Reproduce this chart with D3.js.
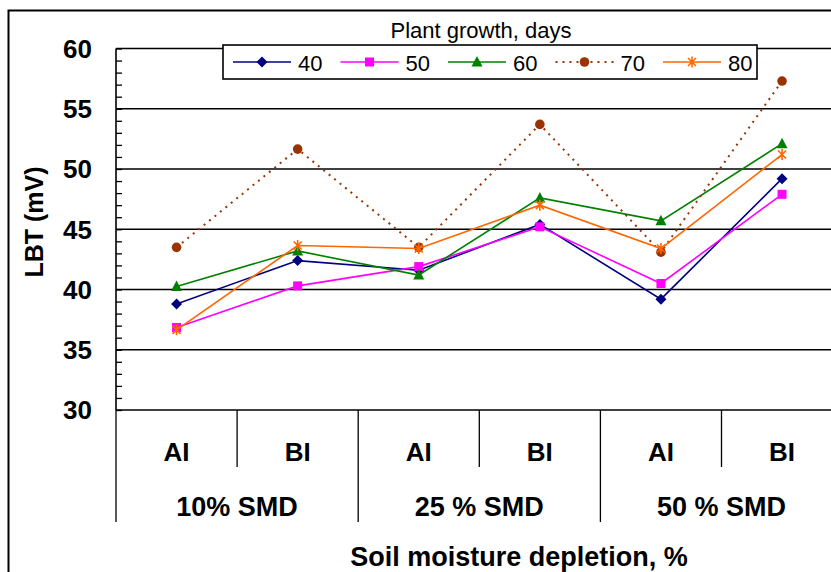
<!DOCTYPE html>
<html>
<head>
<meta charset="utf-8">
<script src="https://cdn.jsdelivr.net/npm/d3@7"></script>
<style>
  html, body { margin: 0; padding: 0; background: #fff; }
  svg { display: block; }
  text { font-family: "Liberation Sans", Arial, Helvetica, sans-serif; fill: #000; }
</style>
</head>
<body>
<svg id="chart" width="831" height="572"></svg>
<script>
// Irrigation treatment categories along the x axis
const categories = ["AI", "BI", "AI", "BI", "AI", "BI"];
const groups = ["10% SMD", "25 % SMD", "50 % SMD"];
const yTicks = [30, 35, 40, 45, 50, 55, 60];

// LBT readings (mV) per plant-growth stage (days)
const days = ["40", "50", "60", "70", "80"];
const lbt40 = [38.8, 42.4, 41.6, 45.4, 39.2, 49.2];
const lbt50 = [36.85, 40.3, 41.9, 45.2, 40.5, 47.9];
const lbt60 = [40.25, 43.2, 41.2, 47.6, 45.7, 52.1];
const lbt70 = [43.5, 51.65, 43.5, 53.7, 43.1, 57.3];
const lbt80 = [36.65, 43.65, 43.4, 47.0, 43.4, 51.2];

const seriesValues = [lbt40, lbt50, lbt60, lbt70, lbt80];
const colors = ["#000080", "#ff00ff", "#008000", "#993300", "#ff6600"];
const markers = ["diamond", "square", "triangle", "circle", "star"];
const dashes = [null, null, null, "2,5", null];

const svg = d3.select("#chart");
const plot = { left: 116, top: 48.5, bottom: 410, right: 842.6 };

const x = d3.scaleBand()
  .domain(d3.range(categories.length))
  .range([plot.left, plot.right])
  .padding(0);
const y = d3.scaleLinear().domain([30, 60]).range([plot.bottom, plot.top]);
const cx = i => x(i) + x.bandwidth() / 2;

// Outer chart frame
svg.append("rect")
  .attr("x", 8.5).attr("y", 10.5)
  .attr("width", 900).attr("height", 700)
  .attr("fill", "none").attr("stroke", "#000").attr("stroke-width", 2);

// Horizontal gridlines at major ticks
svg.append("g").selectAll("line")
  .data(yTicks)
  .join("line")
  .attr("x1", plot.left).attr("x2", plot.right)
  .attr("y1", d => y(d)).attr("y2", d => y(d))
  .attr("stroke", "#000").attr("stroke-width", 1.6);

// Y axis with inward minor ticks every 1 mV
const yAxis = d3.axisRight(y)
  .tickValues(d3.range(30, 61, 1))
  .tickSize(6)
  .tickFormat("");
const yG = svg.append("g").attr("transform", `translate(${plot.left},0)`).call(yAxis);
yG.select(".domain").remove();
yG.selectAll(".tick line").attr("stroke", "#000").attr("stroke-width", 1.3);
svg.append("line")
  .attr("x1", plot.left).attr("x2", plot.left)
  .attr("y1", plot.top).attr("y2", plot.bottom)
  .attr("stroke", "#000").attr("stroke-width", 1.6);

// Y tick labels
svg.append("g").selectAll("text")
  .data(yTicks)
  .join("text")
  .attr("x", 92).attr("y", d => y(d))
  .attr("dy", "0.36em")
  .attr("text-anchor", "end")
  .attr("font-size", 26).attr("font-weight", "bold")
  .text(d => d);

// Y axis title
svg.append("text")
  .attr("transform", "translate(43,222) rotate(-90)")
  .attr("text-anchor", "middle")
  .attr("font-size", 25).attr("font-weight", "bold")
  .text("LBT (mV)");

// Category dividers beneath the axis
const dividers = d3.range(1, categories.length);
svg.append("g").selectAll("line")
  .data(dividers)
  .join("line")
  .attr("x1", d => x(d)).attr("x2", d => x(d))
  .attr("y1", plot.bottom)
  .attr("y2", d => d % 2 === 0 ? 522 : 467)
  .attr("stroke", "#000").attr("stroke-width", 1.3);
svg.append("line")
  .attr("x1", plot.left).attr("x2", plot.left)
  .attr("y1", plot.bottom).attr("y2", 522)
  .attr("stroke", "#000").attr("stroke-width", 1.3);

// Category labels
svg.append("g").selectAll("text")
  .data(categories)
  .join("text")
  .attr("x", (d, i) => cx(i)).attr("y", 461)
  .attr("text-anchor", "middle")
  .attr("font-size", 26).attr("font-weight", "bold")
  .text(d => d);

// Group labels
svg.append("g").selectAll("text")
  .data(groups)
  .join("text")
  .attr("x", (d, i) => (x(i * 2) + x(i * 2 + 1) + x.bandwidth()) / 2).attr("y", 516)
  .attr("text-anchor", "middle")
  .attr("font-size", 27).attr("font-weight", "bold")
  .text(d => d);

// X axis title
svg.append("text")
  .attr("x", 519).attr("y", 566)
  .attr("text-anchor", "middle")
  .attr("font-size", 27).attr("font-weight", "bold")
  .text("Soil moisture depletion, %");

// Marker drawing helper
function drawMarker(sel, type, color) {
  if (type === "diamond") {
    sel.append("path").attr("d", "M0,-5.5L5.5,0L0,5.5L-5.5,0Z").attr("fill", color);
  } else if (type === "square") {
    sel.append("rect").attr("x", -4.5).attr("y", -4.5).attr("width", 9).attr("height", 9).attr("fill", color);
  } else if (type === "triangle") {
    sel.append("path").attr("d", "M0,-6L5.5,4.5L-5.5,4.5Z").attr("fill", color);
  } else if (type === "circle") {
    sel.append("circle").attr("r", 4.8).attr("fill", color);
  } else if (type === "star") {
    sel.append("path").attr("d", "M-4,-4L4,4M-4,4L4,-4M0,-5.5L0,5.5")
      .attr("stroke", color).attr("stroke-width", 1.6).attr("fill", "none");
  }
}

const line = d3.line().x((d, i) => cx(i)).y(d => y(d));

// Series lines and markers
seriesValues.forEach((vals, s) => {
  const g = svg.append("g");
  g.append("path")
    .attr("d", line(vals))
    .attr("fill", "none")
    .attr("stroke", colors[s])
    .attr("stroke-width", s === 3 ? 2 : 1.6)
    .attr("stroke-dasharray", dashes[s]);
  vals.forEach((v, i) => {
    const m = g.append("g").attr("transform", `translate(${cx(i)},${y(v)})`);
    drawMarker(m, markers[s], colors[s]);
  });
});

// Legend
const legend = svg.append("g");
legend.append("text")
  .attr("x", 481).attr("y", 37.5)
  .attr("text-anchor", "middle")
  .attr("font-size", 22)
  .text("Plant growth, days");
legend.append("rect")
  .attr("x", 223).attr("y", 45)
  .attr("width", 534).attr("height", 34)
  .attr("fill", "#fff").attr("stroke", "#000").attr("stroke-width", 1.6);
days.forEach((d, s) => {
  const x0 = 233 + s * 107.5;
  const item = legend.append("g").attr("transform", `translate(${x0},62)`);
  item.append("line")
    .attr("x1", 0).attr("x2", 58).attr("y1", 0).attr("y2", 0)
    .attr("stroke", colors[s])
    .attr("stroke-width", s === 3 ? 2 : 1.6)
    .attr("stroke-dasharray", dashes[s]);
  drawMarker(item.append("g").attr("transform", "translate(29,0)"), markers[s], colors[s]);
  item.append("text")
    .attr("x", 65).attr("y", 8.5)
    .attr("font-size", 22)
    .text(d);
});
</script>
</body>
</html>
